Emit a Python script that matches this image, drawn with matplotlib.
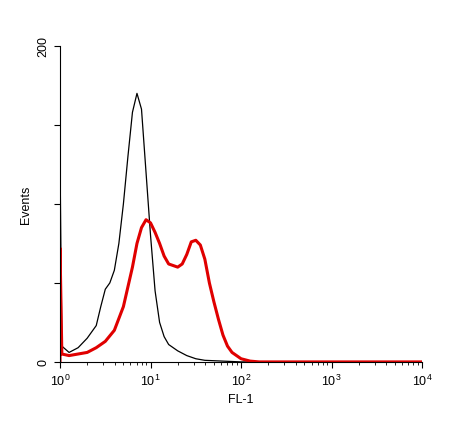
import numpy as np
import matplotlib.pyplot as plt
from matplotlib.ticker import LogLocator, NullFormatter, FixedLocator

plt.rcParams['font.family'] = ['Liberation Sans', 'DejaVu Sans']

# histogram outlines: log10(FL-1) position and event counts
black_logx = [0.0, 0.0, 0.02, 0.1, 0.2, 0.3, 0.4, 0.45, 0.5, 0.55, 0.6, 0.65, 0.7, 0.75, 0.8, 0.85,
              0.9, 0.95, 1.0, 1.05, 1.1, 1.15, 1.2, 1.3, 1.4, 1.5, 1.6, 1.8, 2.0, 4.0]
black_counts = [0, 128, 10, 6, 9, 15, 23, 35, 46, 50, 58, 75, 100, 130, 158, 170,
                160, 120, 80, 45, 25, 16, 11, 7, 4, 2, 1, 0.5, 0, 0]
red_logx = [0.0, 0.0, 0.02, 0.1, 0.2, 0.3, 0.4, 0.5, 0.6, 0.7, 0.8, 0.85, 0.9, 0.95, 1.0, 1.05,
            1.1, 1.15, 1.2, 1.3, 1.35, 1.4, 1.45, 1.5, 1.55, 1.6, 1.65, 1.7, 1.75, 1.8, 1.85,
            1.9, 2.0, 2.1, 2.2, 4.0]
red_counts = [0, 72, 5, 4, 5, 6, 9, 13, 20, 35, 60, 75, 85, 90, 88, 82,
              75, 67, 62, 60, 62, 68, 76, 77, 74, 65, 50, 38, 27, 17, 10,
              6, 2, 0.5, 0, 0]

fig = plt.figure(figsize=(4.69, 4.31), dpi=100)
ax = fig.add_axes([0.128, 0.158, 0.772, 0.733])

ax.plot(10 ** np.array(black_logx), black_counts, color='black', linewidth=0.9)
ax.plot(10 ** np.array(red_logx), red_counts, color='#e00000', linewidth=2.2)

ax.set_xscale('log')
ax.set_xlim(1, 1e4)
ax.set_ylim(0, 200)
ax.xaxis.set_minor_locator(LogLocator(base=10, subs=np.arange(2, 10)))
ax.xaxis.set_minor_formatter(NullFormatter())
ax.yaxis.set_major_locator(FixedLocator([0, 50, 100, 150, 200]))
ax.set_yticklabels(['0', '', '', '', '200'], rotation=90, va='center')
ax.tick_params(labelsize=9, length=4)
ax.tick_params(which='minor', length=2)

for s in ['top', 'right']:
    ax.spines[s].set_visible(False)

ax.set_xlabel('FL-1', fontsize=9)
ax.set_ylabel('Events', fontsize=9)

plt.savefig('out.png', dpi=100)
